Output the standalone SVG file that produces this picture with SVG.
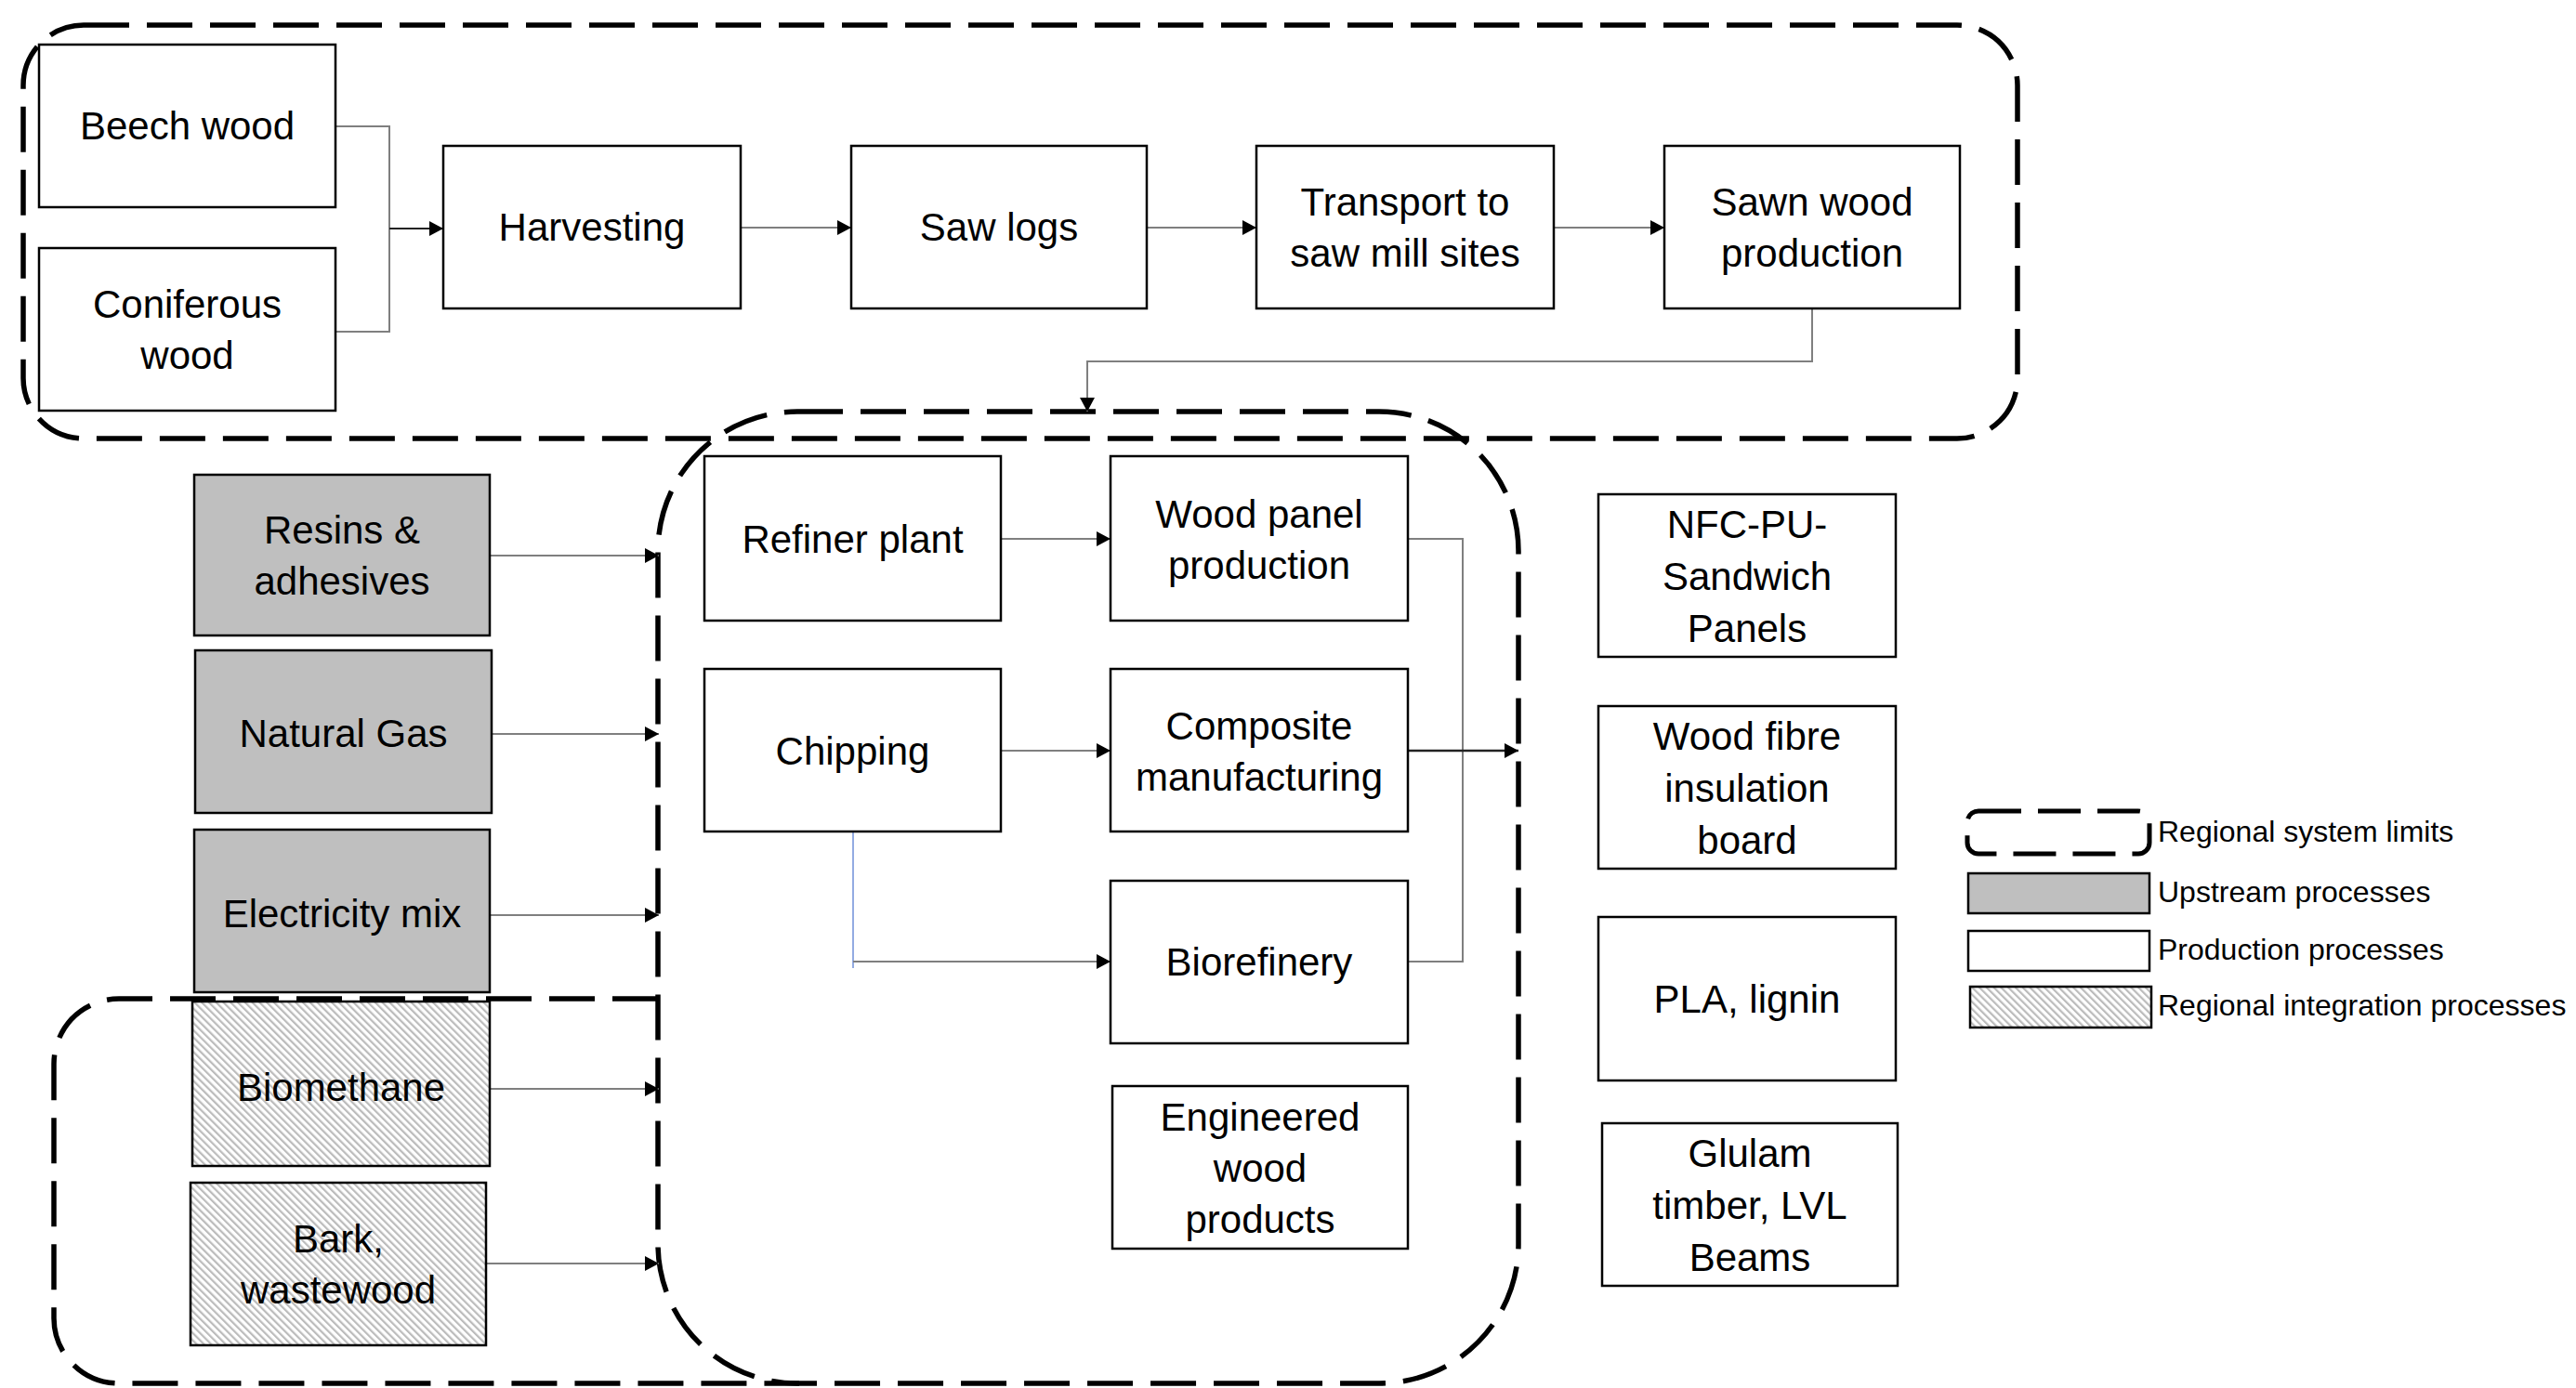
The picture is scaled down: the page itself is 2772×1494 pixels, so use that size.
<svg xmlns="http://www.w3.org/2000/svg" width="2772" height="1494" viewBox="0 0 2772 1494">
<defs>
<style>
.box{stroke:#000;stroke-width:2.5;fill:#fff}
.up{fill:#BFBFBF}
.hat{fill:url(#hatch)}
.lbl{font-family:"Liberation Sans",Arial,sans-serif;font-size:42px;fill:#000;text-anchor:middle;dominant-baseline:central}
.leg{font-family:"Liberation Sans",Arial,sans-serif;font-size:32px;fill:#000;dominant-baseline:central}
.lim{fill:none;stroke:#000;stroke-width:5.5;stroke-dasharray:49 19}
.con{fill:none;stroke:#7F7F7F;stroke-width:2}
.arr{marker-end:url(#ah)}
</style>
<marker id="ah" markerWidth="16" markerHeight="16" refX="15" refY="8" orient="auto" markerUnits="userSpaceOnUse">
<path d="M0,0 L15,8 L0,16 Z" fill="#000"/>
</marker>
<pattern id="hatch" width="5.5" height="5.5" patternUnits="userSpaceOnUse" patternTransform="rotate(-45)">
<rect width="5.5" height="5.5" fill="#fff"/>
<rect x="0" y="0" width="2.2" height="5.5" fill="#BBBBBB"/>
</pattern>
</defs>
<rect width="2772" height="1494" fill="#fff"/>

<g id="limits">
<rect class="lim" x="25" y="27" width="2146" height="445" rx="65" ry="65"/>
<rect class="lim" x="708" y="443" width="926" height="1046" rx="150" ry="150"/>
<path class="lim" d="M708,1075 H128 A70,70 0 0 0 58,1145 V1419 A70,70 0 0 0 128,1489 H860"/>
</g>

<g id="connectors">
<path class="con" d="M361,136 H419 V357 H361"/>
<path class="con arr" d="M419,246 H477" style="stroke:#222"/>
<path class="con arr" d="M797,245 H916"/>
<path class="con arr" d="M1234,245 H1352"/>
<path class="con arr" d="M1672,245 H1791"/>
<path class="con arr" d="M1950,332 V389 H1170 V443"/>
<path class="con arr" d="M527,598 H709"/>
<path class="con arr" d="M529,790 H709"/>
<path class="con arr" d="M527,985 H709"/>
<path class="con arr" d="M527,1172 H709"/>
<path class="con arr" d="M523,1360 H709"/>
<path class="con arr" d="M1077,580 H1195"/>
<path class="con arr" d="M1077,808 H1195"/>
<path class="con" d="M918,895 V1042" style="stroke:#6F8FD8;stroke-width:1.5"/>
<path class="con arr" d="M918,1035 H1195"/>
<path class="con" d="M1515,580 H1574 V1035 H1515"/>
<path class="con arr" d="M1515,808 H1634" style="stroke:#222;stroke-width:2.5"/>
</g>

<g id="beech"><rect class="box" x="42" y="48" width="319" height="175"/><text class="lbl" x="201.5" y="135.5">Beech wood</text></g>
<g id="coniferous"><rect class="box" x="42" y="267" width="319" height="175"/><text class="lbl" x="201.5" y="327">Coniferous</text><text class="lbl" x="201.5" y="382">wood</text></g>
<g id="harvesting"><rect class="box" x="477" y="157" width="320" height="175"/><text class="lbl" x="637" y="244.5">Harvesting</text></g>
<g id="sawlogs"><rect class="box" x="916" y="157" width="318" height="175"/><text class="lbl" x="1075" y="244.5">Saw logs</text></g>
<g id="transport"><rect class="box" x="1352" y="157" width="320" height="175"/><text class="lbl" x="1512" y="217">Transport to</text><text class="lbl" x="1512" y="272">saw mill sites</text></g>
<g id="sawnwood"><rect class="box" x="1791" y="157" width="318" height="175"/><text class="lbl" x="1950" y="217">Sawn wood</text><text class="lbl" x="1950" y="272">production</text></g>

<g id="resins"><rect class="box up" x="209" y="511" width="318" height="173"/><text class="lbl" x="368" y="570">Resins &amp;</text><text class="lbl" x="368" y="625">adhesives</text></g>
<g id="naturalgas"><rect class="box up" x="210" y="700" width="319" height="175"/><text class="lbl" x="369.5" y="789">Natural Gas</text></g>
<g id="electricity"><rect class="box up" x="209" y="893" width="318" height="175"/><text class="lbl" x="368" y="983">Electricity mix</text></g>
<g id="biomethane"><rect class="box hat" x="207" y="1078" width="320" height="177"/><text class="lbl" x="367" y="1170">Biomethane</text></g>
<g id="bark"><rect class="box hat" x="205" y="1273" width="318" height="175"/><text class="lbl" x="364" y="1333">Bark,</text><text class="lbl" x="364" y="1388">wastewood</text></g>

<g id="refiner"><rect class="box" x="758" y="491" width="319" height="177"/><text class="lbl" x="917.5" y="580">Refiner plant</text></g>
<g id="woodpanel"><rect class="box" x="1195" y="491" width="320" height="177"/><text class="lbl" x="1355" y="553">Wood panel</text><text class="lbl" x="1355" y="608">production</text></g>
<g id="chipping"><rect class="box" x="758" y="720" width="319" height="175"/><text class="lbl" x="917.5" y="808">Chipping</text></g>
<g id="composite"><rect class="box" x="1195" y="720" width="320" height="175"/><text class="lbl" x="1355" y="781">Composite</text><text class="lbl" x="1355" y="836">manufacturing</text></g>
<g id="biorefinery"><rect class="box" x="1195" y="948" width="320" height="175"/><text class="lbl" x="1355" y="1035">Biorefinery</text></g>
<g id="engineered"><rect class="box" x="1197" y="1169" width="318" height="175"/><text class="lbl" x="1356" y="1202">Engineered</text><text class="lbl" x="1356" y="1257">wood</text><text class="lbl" x="1356" y="1312">products</text></g>

<g id="nfc"><rect class="box" x="1720" y="532" width="320" height="175"/><text class="lbl" x="1880" y="564">NFC-PU-</text><text class="lbl" x="1880" y="620">Sandwich</text><text class="lbl" x="1880" y="676">Panels</text></g>
<g id="woodfibre"><rect class="box" x="1720" y="760" width="320" height="175"/><text class="lbl" x="1880" y="792">Wood fibre</text><text class="lbl" x="1880" y="848">insulation</text><text class="lbl" x="1880" y="904">board</text></g>
<g id="pla"><rect class="box" x="1720" y="987" width="320" height="176"/><text class="lbl" x="1880" y="1075">PLA, lignin</text></g>
<g id="glulam"><rect class="box" x="1724" y="1209" width="318" height="175"/><text class="lbl" x="1883" y="1241">Glulam</text><text class="lbl" x="1883" y="1297">timber, LVL</text><text class="lbl" x="1883" y="1353">Beams</text></g>

<g id="legend">
<rect x="2117" y="873" width="196" height="46" rx="12" ry="12" fill="none" stroke="#000" stroke-width="5" stroke-dasharray="46 18"/>
<text class="leg" x="2322" y="895">Regional system limits</text>
<rect class="box up" x="2118" y="940" width="195" height="43"/>
<text class="leg" x="2322" y="960">Upstream processes</text>
<rect class="box" x="2118" y="1002" width="195" height="43"/>
<text class="leg" x="2322" y="1022">Production processes</text>
<rect class="box hat" x="2120" y="1062" width="195" height="44"/>
<text class="leg" x="2322" y="1082">Regional integration processes</text>
</g>
</svg>
